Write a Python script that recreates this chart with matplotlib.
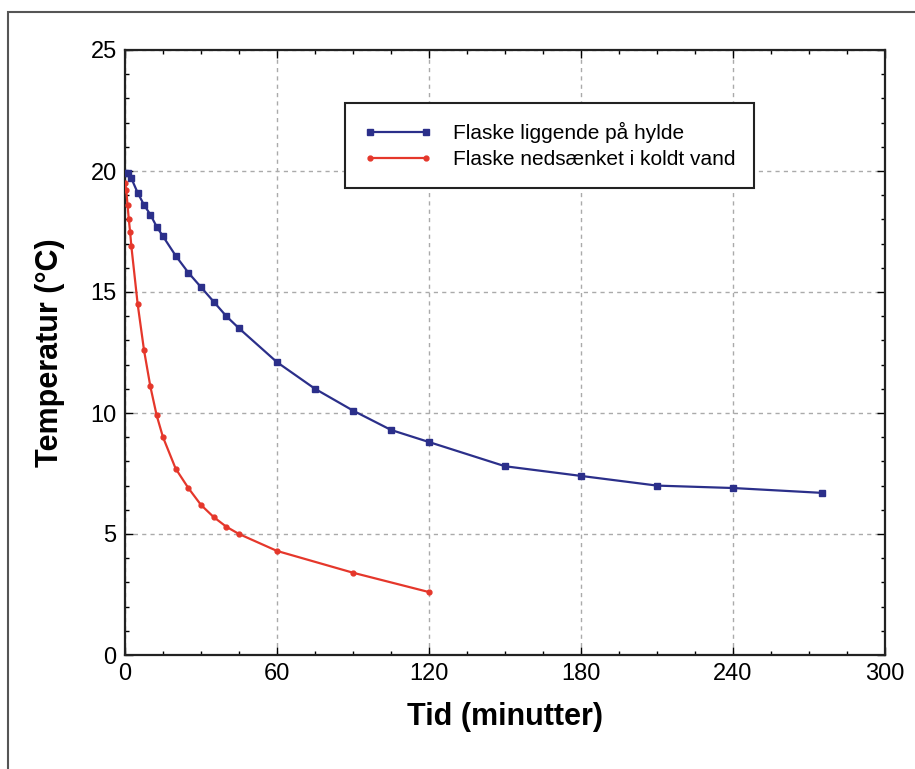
import matplotlib.pyplot as plt
from matplotlib.patches import Rectangle
from matplotlib.ticker import MultipleLocator

plt.rcParams['font.family'] = ['Liberation Sans', 'DejaVu Sans']

# hylde (blå)
tid_hylde = [0, 1, 2.5, 5, 7.5, 10, 12.5, 15, 20, 25, 30, 35, 40, 45, 60, 75,
             90, 105, 120, 150, 180, 210, 240, 275]
temp_hylde = [19.9, 19.9, 19.7, 19.1, 18.6, 18.2, 17.7, 17.3, 16.5, 15.8, 15.2,
              14.6, 14.0, 13.5, 12.1, 11.0, 10.1, 9.3, 8.8, 7.8, 7.4, 7.0, 6.9, 6.7]

# koldt vand (rød)
tid_vand = [0, 0.5, 1, 1.5, 2, 2.5, 5, 7.5, 10, 12.5, 15, 20, 25, 30, 35, 40,
            45, 60, 90, 120]
temp_vand = [19.5, 19.2, 18.6, 18.0, 17.5, 16.9, 14.5, 12.6, 11.1, 9.9, 9.0,
             7.7, 6.9, 6.2, 5.7, 5.3, 5.0, 4.3, 3.4, 2.6]

navne = ['Flaske liggende på hylde', 'Flaske nedsænket i koldt vand']

fig = plt.figure(figsize=(9.15, 7.69), dpi=100)
ax = fig.add_axes([125 / 915, 1 - 655 / 769, 760 / 915, 605 / 769])

# ramme om hele figuren
fig.patches.append(Rectangle((8 / 915, -0.1), 1.2, 1 - 12 / 769 + 0.1,
                             transform=fig.transFigure, fill=False,
                             edgecolor='#555555', linewidth=1.5))

ax.plot(tid_hylde, temp_hylde, color='#2b2f8a', lw=1.6, marker='s', ms=5,
        label=navne[0], zorder=3)
ax.plot(tid_vand, temp_vand, color='#e5372b', lw=1.6, marker='o', ms=3.5,
        label=navne[1], zorder=3)

ax.set_xlim(0, 300)
ax.set_ylim(0, 25)
ax.xaxis.set_major_locator(MultipleLocator(60))
ax.xaxis.set_minor_locator(MultipleLocator(15))
ax.yaxis.set_major_locator(MultipleLocator(5))
ax.yaxis.set_minor_locator(MultipleLocator(1))
ax.tick_params(which='both', direction='in', top=True, right=True, width=1)
ax.tick_params(which='major', length=6, labelsize=17, pad=6)
ax.tick_params(which='minor', length=3)
for s in ax.spines.values():
    s.set_linewidth(1.6)
    s.set_color('#222222')

ax.grid(True, which='major', color='#aaaaaa', linestyle=(0, (3, 3)), linewidth=1)

ax.set_xlabel('Tid (minutter)', fontsize=22, fontweight='bold', labelpad=12)
ax.set_ylabel('Temperatur (°C)', fontsize=22, fontweight='bold', labelpad=18)

leg = ax.legend(loc='upper left', bbox_to_anchor=(0.289, 0.912), fontsize=15,
                numpoints=2, fancybox=False, framealpha=1, edgecolor='#222222',
                handlelength=3.3, handletextpad=1.0, borderpad=0.9,
                labelspacing=0.35, borderaxespad=0)
leg.get_frame().set_linewidth(1.5)

fig.savefig('out.png', dpi=100)
